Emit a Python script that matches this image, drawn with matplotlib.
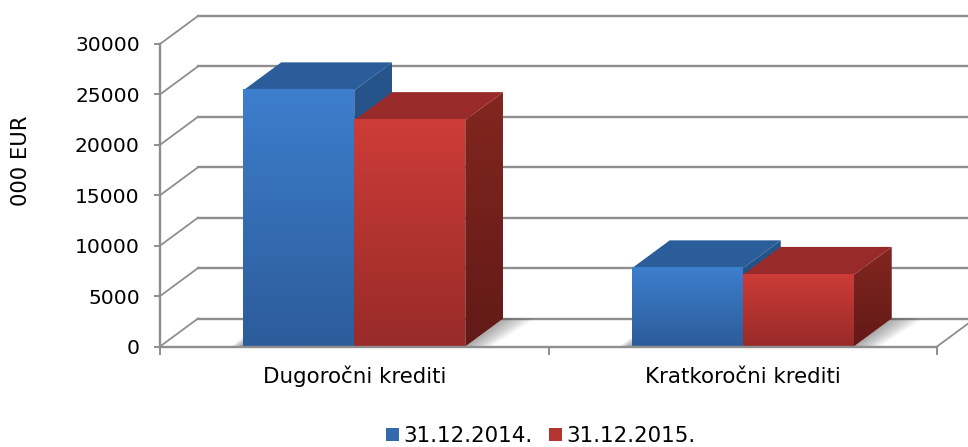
#!/usr/bin/env python3
"""Loans by maturity, fake-3D column chart (two dates)."""

import matplotlib
matplotlib.use("Agg")
import matplotlib.pyplot as plt
import numpy as np
from matplotlib.colors import LinearSegmentedColormap
from matplotlib.patches import Patch, Polygon

categories = ["Dugoročni krediti", "Kratkoročni krediti"]
series_names = ["31.12.2014.", "31.12.2015."]
values_2014 = [25400, 7750]
values_2015 = [22450, 7100]
y_ticks = [0, 5000, 10000, 15000, 20000, 25000, 30000]

GRID = "#8e8e8e"
FONT = 14.6
FONT_WIDE = 15.4
W, H = 968, 447
# depth of the fake 3D box, in data units
DX = 38 / 777 * 2
DY = 28 / 302.5 * 30000
BAR_W = 111 / 388.5

# front top, front bottom, side top, side bottom, top face
BLUE = ("#3d7ecd", "#2c5c9a", "#27558c", "#1f4676", "#2b5d9a")
RED = ("#cd3c38", "#982b29", "#83261f", "#621a18", "#982b2a")

fig = plt.figure(figsize=(W / 100, H / 100), dpi=100)
ax = fig.add_axes([160 / W, (H - 346.5) / H, 777 / W, 302.5 / H])


def gradient(x0, x1, y0, y1, top, bottom, clip=None, zorder=3):
    cmap = LinearSegmentedColormap.from_list("g", [top, bottom])
    im = ax.imshow(
        np.linspace(0, 1, 128).reshape(-1, 1), extent=(x0, x1, y0, y1), origin="upper",
        cmap=cmap, aspect="auto", zorder=zorder, interpolation="bilinear", clip_on=False,
    )
    if clip is not None:
        im.set_clip_path(clip)
        im.set_clip_on(True)


def shadow(x, zorder):
    # soft floor shadow right of the bar and a small one left of it
    for k in range(1, 25):
        ax.add_patch(Polygon(
            [(x[1], 0), (x[1] + DX, DY), (x[1] + DX + k * 0.0035, DY),
             (x[1] + k * 0.0028, 0)],
            fc="#555555", ec="none", alpha=0.025, zorder=zorder, clip_on=False,
        ))
        ax.add_patch(Polygon(
            [(x[0], 0), (x[0], DY * k / 72), (x[0] - k * 0.0013, 0)],
            fc="#555555", ec="none", alpha=0.03, zorder=zorder, clip_on=False,
        ))


def bar3d(left, value, pal, zorder):
    right = left + BAR_W
    side = Polygon(
        [(right, 0), (right + DX, DY), (right + DX, value + DY), (right, value)],
        transform=ax.transData, fc="none", ec="none",
    )
    ax.add_patch(side)
    gradient(right, right + DX, 0, value + DY, pal[2], pal[3], clip=side, zorder=zorder)
    ax.add_patch(Polygon(
        [(left, value), (left + DX, value + DY), (right + DX, value + DY), (right, value)],
        fc=pal[4], ec="none", zorder=zorder, clip_on=False,
    ))
    gradient(left, right, 0, value, pal[0], pal[1], zorder=zorder)


# back wall grid
for t in y_ticks:
    ax.plot([0, DX], [t, t + DY], color=GRID, lw=1.3, zorder=1, clip_on=False)
    ax.plot([DX, 2 + DX], [t + DY, t + DY], color=GRID, lw=1.7, zorder=1, clip_on=False)
ax.plot([2, 2 + DX], [0, DY], color=GRID, lw=1.3, zorder=1, clip_on=False)

for i, (v1, v2) in enumerate(zip(values_2014, values_2015)):
    center = i + 0.5
    shadow((center - BAR_W, center + BAR_W), 2)
    bar3d(center - BAR_W, v1, BLUE, 3 + 2 * i)
    bar3d(center, v2, RED, 4 + 2 * i)

ax.set_xlim(0, 2)
ax.set_ylim(0, 30000)
ax.patch.set_visible(False)
for s in ["top", "right"]:
    ax.spines[s].set_visible(False)
for s in ["left", "bottom"]:
    ax.spines[s].set_color(GRID)
    ax.spines[s].set_linewidth(1.7)
    ax.spines[s].set_zorder(8)

ax.set_yticks(y_ticks)
ax.tick_params(axis="y", length=4, width=1.4, color=GRID, labelsize=FONT, pad=10.5)
ax.set_xticks([0, 1, 2])
ax.set_xticklabels([])
ax.tick_params(axis="x", which="major", length=5.5, width=1.4, color=GRID)
ax.set_xticks([0.5, 1.5], minor=True)
ax.set_xticklabels(categories, minor=True, fontsize=FONT_WIDE, va="baseline")
ax.tick_params(axis="x", which="minor", length=0, pad=26)

fig.text(21 / W, 1 - 161 / H, "000 EUR", rotation=90, fontsize=FONT_WIDE - 0.2,
         ha="center", va="center")

handles = [Patch(fc="#3569ae", ec="none"), Patch(fc="#b43431", ec="none")]
fig.legend(
    handles, series_names, loc="center", bbox_to_anchor=(541 / W, 1 - 436 / H), ncol=2,
    fontsize=FONT_WIDE, frameon=False, handlelength=0.6, handleheight=0.6,
    handletextpad=0.2, columnspacing=0.78, borderpad=0,
)

fig.savefig("out.png", dpi=100)
